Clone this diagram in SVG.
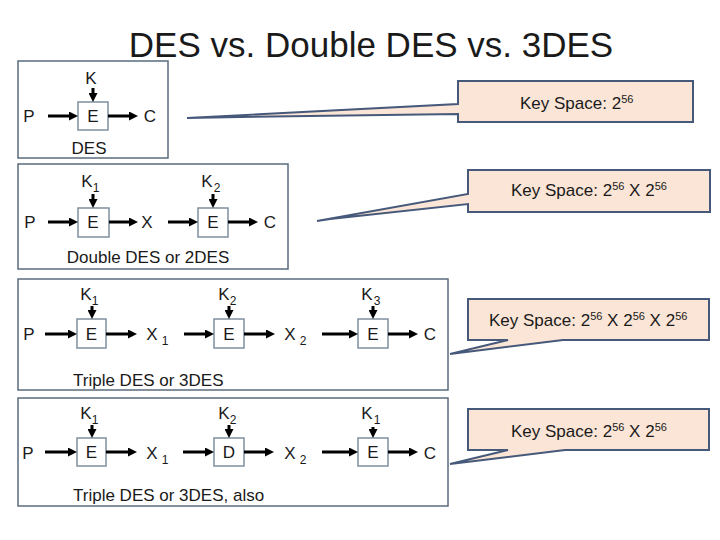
<svg xmlns="http://www.w3.org/2000/svg" width="720" height="540" viewBox="0 0 720 540">
<style>
text{font-family:"Liberation Sans",Arial,sans-serif;fill:#1a1a1a}
.t{font-size:17px}
.c{text-anchor:middle}
.sub{font-size:12px}
.frame{fill:none;stroke:#5a6b7c;stroke-width:1.5}
.blk{fill:#fff;stroke:#7f909f;stroke-width:1.5}
.call{fill:#fbe5d6;stroke:#46597a;stroke-width:2;stroke-linejoin:miter}
.ar{stroke:#000;stroke-width:3;marker-end:url(#ah)}
</style>
<defs>
<marker id="ah" viewBox="0 0 10 10" refX="3.3" refY="5" markerWidth="9" markerHeight="9" markerUnits="userSpaceOnUse" orient="auto"><path d="M0,0 L10,5 L0,10 Z" fill="#000"/></marker>
</defs>
<rect width="720" height="540" fill="#fff"/>
<text x="371" y="57" font-size="35" text-anchor="middle">DES vs. Double DES vs. 3DES</text>

<g id="des">
<rect class="frame" x="18" y="61" width="150" height="97"/>
<rect class="blk" x="78" y="102" width="30" height="28"/>
<text class="t c" x="93" y="122">E</text>
<text class="t c" x="29" y="122">P</text>
<text class="t c" x="150" y="122">C</text>
<text class="t c" x="91" y="84">K</text>
<text class="t c" x="89" y="154">DES</text>
</g>

<g id="double-des">
<rect class="frame" x="18" y="164" width="270" height="105"/>
<rect class="blk" x="78" y="208" width="31" height="29"/>
<rect class="blk" x="198" y="208" width="30" height="29"/>
<text class="t c" x="93" y="228">E</text>
<text class="t c" x="213" y="228">E</text>
<text class="t c" x="30" y="228">P</text>
<text class="t c" x="147" y="228">X</text>
<text class="t c" x="270" y="228">C</text>
<text class="t c" x="87" y="187">K</text><text class="sub c" x="96" y="192">1</text>
<text class="t c" x="207" y="187">K</text><text class="sub c" x="217" y="192">2</text>
<text class="t c" x="148" y="263">Double DES or 2DES</text>
</g>

<g id="triple-des">
<rect class="frame" x="18" y="279" width="430" height="111"/>
<rect class="blk" x="77" y="319" width="29" height="29"/>
<rect class="blk" x="214" y="319" width="30" height="29"/>
<rect class="blk" x="358" y="319" width="30" height="29"/>
<text class="t c" x="91.5" y="340">E</text>
<text class="t c" x="229" y="340">E</text>
<text class="t c" x="373" y="340">E</text>
<text class="t c" x="29" y="340">P</text>
<text class="t c" x="152" y="340">X</text><text class="sub c" x="165" y="345">1</text>
<text class="t c" x="290" y="340">X</text><text class="sub c" x="303" y="345">2</text>
<text class="t c" x="430" y="340">C</text>
<text class="t c" x="86" y="300">K</text><text class="sub c" x="95" y="305">1</text>
<text class="t c" x="224" y="300">K</text><text class="sub c" x="233" y="305">2</text>
<text class="t c" x="367" y="300">K</text><text class="sub c" x="377" y="305">3</text>
<text class="t" x="73" y="386">Triple DES or 3DES</text>
</g>

<g id="triple-des-ede">
<rect class="frame" x="18" y="398" width="430" height="108"/>
<rect class="blk" x="77" y="438" width="29" height="28"/>
<rect class="blk" x="214" y="438" width="30" height="28"/>
<rect class="blk" x="358" y="438" width="30" height="28"/>
<text class="t c" x="91.5" y="458">E</text>
<text class="t c" x="229" y="458">D</text>
<text class="t c" x="373" y="458">E</text>
<text class="t c" x="28" y="459">P</text>
<text class="t c" x="152" y="459">X</text><text class="sub c" x="165" y="464">1</text>
<text class="t c" x="290" y="459">X</text><text class="sub c" x="303" y="464">2</text>
<text class="t c" x="430" y="459">C</text>
<text class="t c" x="86" y="419">K</text><text class="sub c" x="95" y="424">1</text>
<text class="t c" x="224" y="419">K</text><text class="sub c" x="233" y="424">2</text>
<text class="t c" x="367" y="419">K</text><text class="sub c" x="377" y="424">1</text>
<text class="t" x="73" y="501">Triple DES or 3DES, also</text>
</g>

<g id="callout-1">
<path class="call" d="M458,81 H693 V122 H458 V114 L240,117 L187,118 L458,104 Z"/>
<text class="t" x="520" y="109">Key Space: 2<tspan font-size="11" dy="-6">56</tspan></text>
</g>
<g id="callout-2">
<path class="call" d="M468,170 H710 V212 H468 V204 L330,219 L317,221 L468,194 Z"/>
<text class="t" x="511" y="196">Key Space: 2<tspan font-size="11" dy="-6">56</tspan><tspan dy="6"> X 2</tspan><tspan font-size="11" dy="-6">56</tspan></text>
</g>
<g id="callout-3">
<path class="call" d="M468,299 H709 V340 H563 L450,354 L508,340 H468 Z"/>
<text class="t" x="489" y="326">Key Space: 2<tspan font-size="11" dy="-6">56</tspan><tspan dy="6"> X 2</tspan><tspan font-size="11" dy="-6">56</tspan><tspan dy="6"> X 2</tspan><tspan font-size="11" dy="-6">56</tspan></text>
</g>
<g id="callout-4">
<path class="call" d="M468,409 H709 V450 H565 L450,464 L508,450 H468 Z"/>
<text class="t" x="511" y="437">Key Space: 2<tspan font-size="11" dy="-6">56</tspan><tspan dy="6"> X 2</tspan><tspan font-size="11" dy="-6">56</tspan></text>
</g>

<g id="connectors">
<line class="ar" x1="48" y1="116" x2="72" y2="116"/>
<line class="ar" x1="108" y1="116" x2="132" y2="116"/>
<line class="ar" x1="93" y1="88" x2="93" y2="96"/>

<line class="ar" x1="48" y1="222" x2="72" y2="222"/>
<line class="ar" x1="109" y1="222" x2="132" y2="222"/>
<line class="ar" x1="168" y1="222" x2="192" y2="222"/>
<line class="ar" x1="228" y1="222" x2="252" y2="222"/>
<line class="ar" x1="93" y1="194" x2="93" y2="202"/>
<line class="ar" x1="213" y1="194" x2="213" y2="202"/>

<line class="ar" x1="45" y1="334" x2="71" y2="334"/>
<line class="ar" x1="106" y1="334" x2="131" y2="334"/>
<line class="ar" x1="184" y1="334" x2="208" y2="334"/>
<line class="ar" x1="244" y1="334" x2="269" y2="334"/>
<line class="ar" x1="322" y1="334" x2="352" y2="334"/>
<line class="ar" x1="388" y1="334" x2="412" y2="334"/>
<line class="ar" x1="92" y1="306" x2="92" y2="313"/>
<line class="ar" x1="229" y1="306" x2="229" y2="313"/>
<line class="ar" x1="373" y1="306" x2="373" y2="313"/>

<line class="ar" x1="45" y1="452" x2="71" y2="452"/>
<line class="ar" x1="106" y1="452" x2="131" y2="452"/>
<line class="ar" x1="183" y1="452" x2="208" y2="452"/>
<line class="ar" x1="244" y1="452" x2="268" y2="452"/>
<line class="ar" x1="322" y1="452" x2="352" y2="452"/>
<line class="ar" x1="388" y1="452" x2="412" y2="452"/>
<line class="ar" x1="92" y1="425" x2="92" y2="432"/>
<line class="ar" x1="229" y1="425" x2="229" y2="432"/>
<line class="ar" x1="373" y1="427" x2="373" y2="432"/>
</g>
</svg>
